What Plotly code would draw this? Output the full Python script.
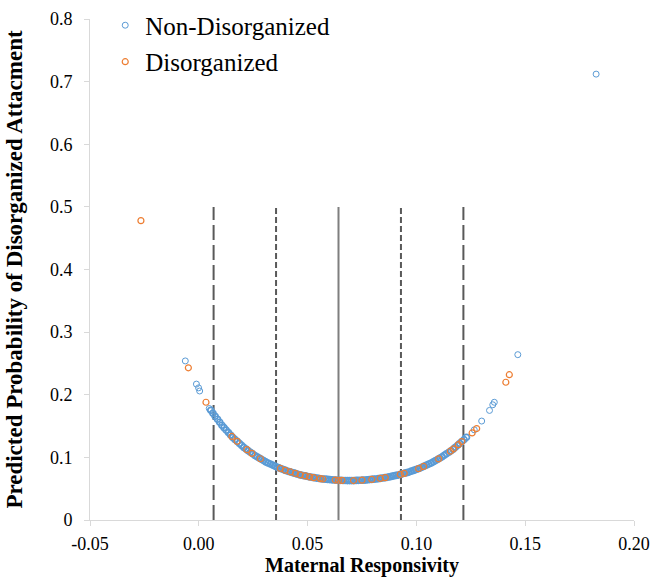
import plotly.graph_objects as go

# ---- data ----
band_x = [0.0055, 0.0065, 0.0075, 0.0086, 0.0096, 0.0106, 0.0116, 0.0126, 0.0136, 0.0146,
          0.0156, 0.0166, 0.0177, 0.0187, 0.0197, 0.0207, 0.0217, 0.0227, 0.0237, 0.0248,
          0.0258, 0.0268, 0.0278, 0.0288, 0.0298, 0.0308, 0.0318, 0.0329, 0.0339, 0.0349,
          0.0359, 0.0369, 0.0379, 0.0389, 0.0399, 0.0410, 0.0420, 0.0430, 0.0440, 0.0450,
          0.0460, 0.0470, 0.0480, 0.0491, 0.0501, 0.0511, 0.0521, 0.0531, 0.0541, 0.0551,
          0.0561, 0.0571, 0.0582, 0.0592, 0.0602, 0.0612, 0.0622, 0.0632, 0.0642, 0.0652,
          0.0663, 0.0673, 0.0683, 0.0693, 0.0703, 0.0713, 0.0723, 0.0733, 0.0744, 0.0754,
          0.0764, 0.0774, 0.0784, 0.0794, 0.0804, 0.0814, 0.0825, 0.0835, 0.0845, 0.0855,
          0.0865, 0.0875, 0.0885, 0.0895, 0.0906, 0.0916, 0.0926, 0.0936, 0.0946, 0.0956,
          0.0966, 0.0976, 0.0987, 0.0997, 0.1007, 0.1017, 0.1027, 0.1037, 0.1047, 0.1057,
          0.1068, 0.1078, 0.1088, 0.1098, 0.1108, 0.1118, 0.1128, 0.1138, 0.1149, 0.1159,
          0.1169, 0.1179, 0.1189, 0.1199, 0.1209, 0.1219, 0.1230]
band_y = [0.1752, 0.1704, 0.1656, 0.1609, 0.1561, 0.1513, 0.1474, 0.1435, 0.1396, 0.1357,
          0.1318, 0.1286, 0.1254, 0.1223, 0.1191, 0.1159, 0.1133, 0.1107, 0.1082, 0.1056,
          0.1030, 0.1009, 0.0989, 0.0968, 0.0948, 0.0927, 0.0910, 0.0894, 0.0877, 0.0861,
          0.0844, 0.0831, 0.0818, 0.0804, 0.0791, 0.0778, 0.0768, 0.0757, 0.0747, 0.0736,
          0.0726, 0.0718, 0.0710, 0.0703, 0.0695, 0.0687, 0.0681, 0.0676, 0.0670, 0.0665,
          0.0659, 0.0655, 0.0652, 0.0648, 0.0645, 0.0641, 0.0639, 0.0637, 0.0635, 0.0633,
          0.0631, 0.0631, 0.0630, 0.0630, 0.0630, 0.0630, 0.0632, 0.0633, 0.0635, 0.0636,
          0.0638, 0.0641, 0.0645, 0.0648, 0.0652, 0.0655, 0.0660, 0.0665, 0.0671, 0.0676,
          0.0681, 0.0688, 0.0696, 0.0703, 0.0711, 0.0718, 0.0728, 0.0737, 0.0747, 0.0756,
          0.0766, 0.0779, 0.0791, 0.0804, 0.0816, 0.0829, 0.0845, 0.0861, 0.0877, 0.0893,
          0.0909, 0.0929, 0.0949, 0.0968, 0.0988, 0.1008, 0.1033, 0.1057, 0.1082, 0.1106,
          0.1131, 0.1161, 0.1192, 0.1222, 0.1253, 0.1283, 0.1320]

nondis_extra_x = [-0.0062, -0.0011, -0.0001, 0.0004, 0.0048, 0.1266, 0.1300, 0.1336, 0.1351, 0.1358, 0.1466, 0.1826]
nondis_extra_y = [0.254, 0.217, 0.211, 0.206, 0.178, 0.144, 0.158, 0.175, 0.184, 0.188, 0.264, 0.712]

dis_x = [-0.0266, -0.0048, 0.0033, 0.0152, 0.0176, 0.0221, 0.0244, 0.0283, 0.0375, 0.0397,
         0.0421, 0.0444, 0.0466, 0.0489, 0.0509, 0.0528, 0.0558, 0.0570, 0.0627, 0.0642,
         0.0658, 0.0711, 0.0750, 0.0795, 0.0834, 0.0857, 0.0926, 0.0944, 0.1010, 0.1033,
         0.1102, 0.1156, 0.1171, 0.1193, 0.1209, 0.1256, 0.1277, 0.1411, 0.1427]
dis_y = [0.478, 0.243, 0.188, 0.1334, 0.1257, 0.1123, 0.1064, 0.0978, 0.0823, 0.0794,
         0.0767, 0.0743, 0.0721, 0.0704, 0.0689, 0.0677, 0.0661, 0.0655, 0.0638, 0.0635,
         0.0632, 0.0630, 0.0636, 0.0648, 0.0664, 0.0677, 0.0728, 0.0745, 0.0820, 0.0855,
         0.0976, 0.1099, 0.1137, 0.1204, 0.1253, 0.139, 0.146, 0.220, 0.232]

# reference lines: mean and +/- 1 SD, +/- 2 SD of maternal responsivity
ref_x = [0.0068, 0.0355, 0.0642, 0.0929, 0.1216]
ref_dash = ["15px,5px", "6px,3px", "solid", "6px,3px", "15px,5px"]
ref_color = ["#595959", "#595959", "#7f7f7f", "#595959", "#595959"]
ref_top = 0.5

x_ticks = [-0.05, 0.0, 0.05, 0.10, 0.15, 0.20]
x_tick_text = ["-0.05", "0.00", "0.05", "0.10", "0.15", "0.20"]
y_ticks = [0, 0.1, 0.2, 0.3, 0.4, 0.5, 0.6, 0.7, 0.8]
y_tick_text = ["0", "0.1", "0.2", "0.3", "0.4", "0.5", "0.6", "0.7", "0.8"]

FONT = "Liberation Serif"
BLUE = "#5B9BD5"
ORANGE = "#ED7D31"

fig = go.Figure()

for xv, dash, col in zip(ref_x, ref_dash, ref_color):
    fig.add_trace(go.Scatter(x=[xv, xv], y=[0, ref_top], mode="lines",
                             line=dict(color=col, width=2, dash=dash),
                             showlegend=False, hoverinfo="skip"))

# dense band of non-disorganized cases (many overlapping markers)
fig.add_trace(go.Scatter(x=band_x, y=band_y, mode="markers", legendgroup="a",
                         showlegend=False,
                         marker=dict(symbol="circle-open", size=6, color=BLUE,
                                     line=dict(width=1.7, color=BLUE))))
fig.add_trace(go.Scatter(x=nondis_extra_x, y=nondis_extra_y,
                         mode="markers", name="Non-Disorganized", legendgroup="a",
                         marker=dict(symbol="circle-open", size=6, color=BLUE,
                                     line=dict(width=1, color=BLUE))))
fig.add_trace(go.Scatter(x=dis_x, y=dis_y, mode="markers", name="Disorganized",
                         legendgroup="b",
                         marker=dict(symbol="circle-open", size=6, color=ORANGE,
                                     line=dict(width=1.2, color=ORANGE))))

axis_common = dict(showgrid=False, zeroline=False, showline=True, linecolor="#d9d9d9",
                   linewidth=1, ticks="outside", tickcolor="#d9d9d9", ticklen=5,
                   automargin=False,
                   tickfont=dict(family=FONT, size=18, color="#000000"))

fig.update_layout(
    width=667, height=580,
    margin=dict(l=90, r=33, t=19, b=60, autoexpand=False),
    paper_bgcolor="white", plot_bgcolor="white",
    font=dict(family=FONT, color="#000000"),
    xaxis=dict(range=[-0.05, 0.20], tickvals=x_ticks, ticktext=x_tick_text,
               title=dict(text="<b>Maternal Responsivity</b>",
                          font=dict(family=FONT, size=20), standoff=4),
               ticklabelstandoff=2,
               **axis_common),
    yaxis=dict(range=[0, 0.8], tickvals=y_ticks, ticktext=y_tick_text,
               title=dict(text="<b>Predicted Probability of Disorganized Attacment</b>",
                          font=dict(family=FONT, size=23), standoff=20),
               ticklabelstandoff=8,
               **axis_common),
    legend=dict(x=0.028, y=1.033, xanchor="left", yanchor="top",
                bgcolor="rgba(0,0,0,0)", font=dict(family=FONT, size=25),
                tracegroupgap=1, itemwidth=30),
    showlegend=True,
)

fig.write_html("out.html", config={"displayModeBar": False},
               post_script="document.body.style.margin='0px';document.body.style.overflow='hidden';")
